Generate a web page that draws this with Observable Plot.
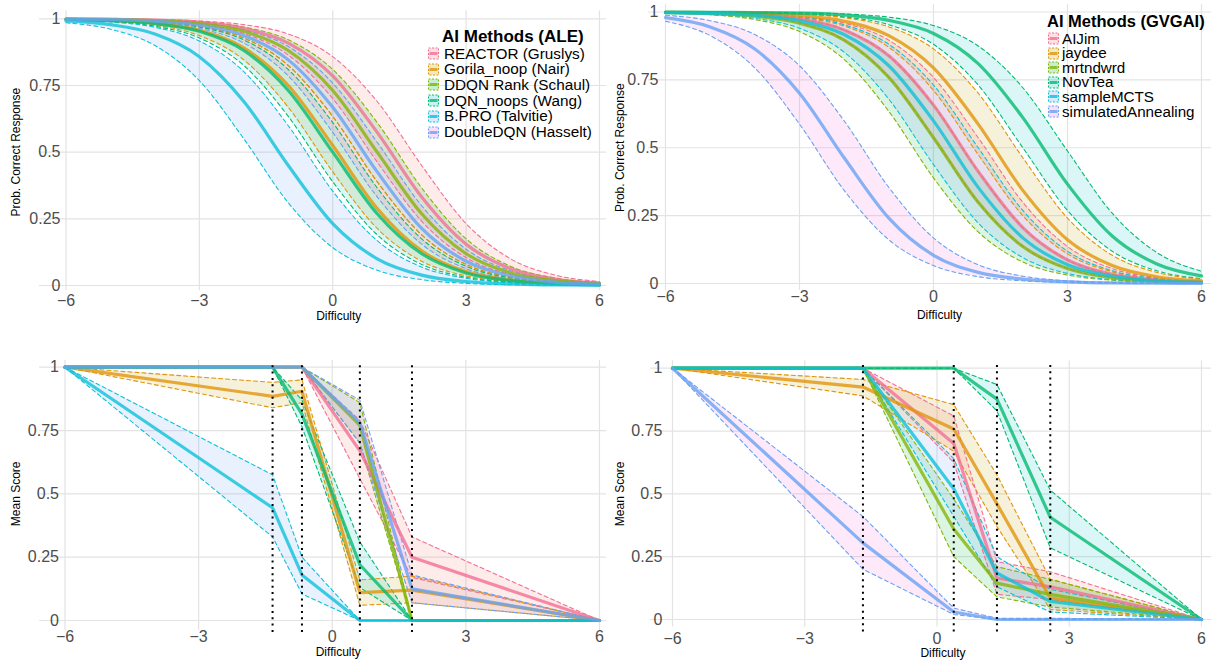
<!DOCTYPE html>
<html>
<head>
<meta charset="utf-8">
<script src="https://cdn.jsdelivr.net/npm/d3@7"></script>
<script src="https://cdn.jsdelivr.net/npm/@observablehq/plot@0.6"></script>
<style>
  html, body { margin: 0; padding: 0; background: #fff; }
  #page { position: relative; width: 1217px; height: 661px; overflow: hidden; font-family: "Liberation Sans", Arial, sans-serif; }
  .panel { position: absolute; }
  .leg-title { position: absolute; font-weight: bold; white-space: nowrap; color: #000; }
  .leg-item { position: absolute; white-space: nowrap; display: flex; align-items: center; color: #000; }
  .leg-item svg { display: block; }
</style>
</head>
<body>
<div id="page"></div>
<script>
// ---------- data ----------
const xTicks = [-6, -3, 0, 3, 6];
const yTicks = [0, 0.25, 0.5, 0.75, 1];
const irtX = [-6, -5, -4, -3, -2, -1, 0, 1, 2, 3, 4, 5, 6];

const aleMethods = ["REACTOR (Gruslys)", "Gorila_noop (Nair)", "DDQN Rank (Schaul)", "DQN_noops (Wang)", "B.PRO (Talvitie)", "DoubleDQN (Hasselt)"];
const gvgaiMethods = ["AIJim", "jaydee", "mrtndwrd", "NovTea", "sampleMCTS", "simulatedAnnealing"];

const aleIrtMean = [
  [0.999, 0.998, 0.995, 0.987, 0.964, 0.909, 0.786, 0.574, 0.332, 0.155, 0.063, 0.024, 0.009],
  [0.998, 0.994, 0.984, 0.957, 0.891, 0.750, 0.525, 0.289, 0.130, 0.052, 0.020, 0.007, 0.003],
  [0.999, 0.998, 0.993, 0.982, 0.953, 0.881, 0.731, 0.500, 0.269, 0.119, 0.047, 0.018, 0.007],
  [0.998, 0.993, 0.982, 0.953, 0.881, 0.731, 0.500, 0.269, 0.119, 0.047, 0.018, 0.007, 0.002],
  [0.992, 0.978, 0.943, 0.858, 0.690, 0.450, 0.232, 0.100, 0.039, 0.015, 0.006, 0.002, 0.001],
  [0.999, 0.997, 0.991, 0.976, 0.937, 0.846, 0.668, 0.426, 0.214, 0.091, 0.036, 0.013, 0.005]
];
const aleIrtLower = [
  [0.999, 0.997, 0.992, 0.979, 0.945, 0.864, 0.701, 0.463, 0.241, 0.104, 0.041, 0.016, 0.006],
  [0.997, 0.991, 0.976, 0.937, 0.846, 0.668, 0.426, 0.214, 0.091, 0.036, 0.013, 0.005, 0.002],
  [0.999, 0.996, 0.990, 0.972, 0.928, 0.825, 0.634, 0.389, 0.190, 0.079, 0.031, 0.012, 0.004],
  [0.996, 0.990, 0.972, 0.928, 0.825, 0.634, 0.389, 0.190, 0.079, 0.031, 0.012, 0.004, 0.002],
  [0.985, 0.961, 0.900, 0.768, 0.550, 0.310, 0.142, 0.057, 0.022, 0.008, 0.003, 0.001, 0.000],
  [0.998, 0.995, 0.987, 0.964, 0.909, 0.786, 0.574, 0.332, 0.155, 0.063, 0.024, 0.009, 0.003]
];
const aleIrtUpper = [
  [1.000, 0.999, 0.997, 0.992, 0.978, 0.943, 0.858, 0.690, 0.450, 0.232, 0.100, 0.039, 0.015],
  [0.999, 0.996, 0.990, 0.972, 0.928, 0.825, 0.634, 0.389, 0.190, 0.079, 0.031, 0.012, 0.004],
  [0.999, 0.998, 0.996, 0.989, 0.969, 0.921, 0.810, 0.611, 0.366, 0.175, 0.072, 0.028, 0.011],
  [0.998, 0.996, 0.989, 0.969, 0.921, 0.810, 0.611, 0.366, 0.175, 0.072, 0.028, 0.011, 0.004],
  [0.995, 0.988, 0.968, 0.917, 0.802, 0.599, 0.354, 0.168, 0.069, 0.027, 0.010, 0.004, 0.001],
  [0.999, 0.998, 0.994, 0.984, 0.959, 0.896, 0.759, 0.537, 0.299, 0.136, 0.055, 0.021, 0.008]
];

const gvgaiIrtMean = [
  [0.999, 0.996, 0.991, 0.975, 0.934, 0.839, 0.657, 0.413, 0.206, 0.087, 0.034, 0.013, 0.005],
  [0.999, 0.998, 0.995, 0.987, 0.966, 0.913, 0.794, 0.587, 0.343, 0.161, 0.066, 0.025, 0.010],
  [0.998, 0.994, 0.985, 0.959, 0.896, 0.759, 0.537, 0.299, 0.136, 0.055, 0.021, 0.008, 0.003],
  [1.000, 0.999, 0.998, 0.996, 0.989, 0.969, 0.921, 0.810, 0.611, 0.366, 0.175, 0.072, 0.028],
  [0.998, 0.995, 0.988, 0.968, 0.917, 0.802, 0.599, 0.354, 0.168, 0.069, 0.027, 0.010, 0.004],
  [0.979, 0.945, 0.864, 0.701, 0.463, 0.241, 0.104, 0.041, 0.016, 0.006, 0.002, 0.001, 0.000]
];
const gvgaiIrtLower = [
  [0.998, 0.994, 0.985, 0.959, 0.896, 0.759, 0.537, 0.299, 0.136, 0.055, 0.021, 0.008, 0.003],
  [0.999, 0.997, 0.993, 0.980, 0.948, 0.870, 0.711, 0.475, 0.250, 0.109, 0.043, 0.016, 0.006],
  [0.996, 0.990, 0.972, 0.928, 0.825, 0.634, 0.389, 0.190, 0.079, 0.031, 0.012, 0.004, 0.002],
  [1.000, 0.999, 0.998, 0.993, 0.982, 0.953, 0.881, 0.731, 0.500, 0.269, 0.119, 0.047, 0.018],
  [0.997, 0.991, 0.977, 0.940, 0.852, 0.679, 0.438, 0.223, 0.095, 0.037, 0.014, 0.005, 0.002],
  [0.966, 0.913, 0.794, 0.587, 0.343, 0.161, 0.066, 0.025, 0.010, 0.004, 0.001, 0.000, 0.000]
];
const gvgaiIrtUpper = [
  [0.999, 0.998, 0.994, 0.984, 0.959, 0.896, 0.759, 0.537, 0.299, 0.136, 0.055, 0.021, 0.008],
  [1.000, 0.999, 0.997, 0.992, 0.979, 0.945, 0.864, 0.701, 0.463, 0.241, 0.104, 0.041, 0.016],
  [0.999, 0.996, 0.991, 0.975, 0.934, 0.839, 0.657, 0.413, 0.206, 0.087, 0.034, 0.013, 0.005],
  [1.000, 1.000, 0.999, 0.997, 0.993, 0.981, 0.950, 0.875, 0.721, 0.488, 0.259, 0.114, 0.045],
  [0.999, 0.998, 0.993, 0.982, 0.953, 0.881, 0.731, 0.500, 0.269, 0.119, 0.047, 0.018, 0.007],
  [0.988, 0.968, 0.917, 0.802, 0.599, 0.354, 0.168, 0.069, 0.027, 0.010, 0.004, 0.001, 0.001]
];

// mean score by difficulty bins
const aleScoreX = [-6, -1.34, -0.68, 0.62, 1.79, 6];
const aleCuts = [-1.34, -0.68, 0.62, 1.79];
const aleScoreMean = [
  [1, 1, 1, 0.67, 0.25, 0],
  [1, 0.885, 0.905, 0.11, 0.12, 0],
  [1, 1, 1, 0.77, 0, 0],
  [1, 1, 0.815, 0.22, 0, 0],
  [1, 0.445, 0.18, 0, 0, 0],
  [1, 1, 1, 0.78, 0.125, 0]
];
const aleScoreLower = [
  [1, 1, 1, 0.56, 0.17, 0],
  [1, 0.84, 0.86, 0.06, 0.07, 0],
  [1, 1, 1, 0.70, 0, 0],
  [1, 1, 0.765, 0.13, 0, 0],
  [1, 0.33, 0.105, 0, 0, 0],
  [1, 1, 1, 0.70, 0.07, 0]
];
const aleScoreUpper = [
  [1, 1, 1, 0.79, 0.33, 0],
  [1, 0.94, 0.95, 0.16, 0.175, 0],
  [1, 1, 1, 0.86, 0, 0],
  [1, 1, 0.87, 0.31, 0, 0],
  [1, 0.575, 0.25, 0, 0, 0],
  [1, 1, 1, 0.87, 0.18, 0]
];

const gvgaiScoreX = [-6, -1.68, 0.38, 1.36, 2.57, 6];
const gvgaiCuts = [-1.68, 0.38, 1.36, 2.57];
const gvgaiScoreMean = [
  [1, 1, 0.70, 0.165, 0.13, 0],
  [1, 0.925, 0.758, 0.46, 0.085, 0],
  [1, 1, 0.36, 0.145, 0.10, 0],
  [1, 1, 1, 0.877, 0.407, 0],
  [1, 1, 0.52, 0.185, 0.072, 0],
  [1, 0.305, 0.03, 0, 0, 0]
];
const gvgaiScoreLower = [
  [1, 1, 0.625, 0.10, 0.08, 0],
  [1, 0.89, 0.67, 0.37, 0.04, 0],
  [1, 1, 0.25, 0.09, 0.05, 0],
  [1, 1, 1, 0.83, 0.285, 0],
  [1, 1, 0.41, 0.13, 0.03, 0],
  [1, 0.20, 0.02, 0, 0, 0]
];
const gvgaiScoreUpper = [
  [1, 1, 0.81, 0.23, 0.19, 0],
  [1, 0.955, 0.855, 0.575, 0.16, 0],
  [1, 1, 0.48, 0.21, 0.16, 0],
  [1, 1, 1, 0.935, 0.515, 0],
  [1, 1, 0.64, 0.25, 0.12, 0],
  [1, 0.41, 0.045, 0.005, 0.005, 0]
];

// ---------- styles ----------
const lineColors = ["#F26F96", "#E2950B", "#86B40A", "#04BB6F", "#0CC2D8", "#68A2F2"];
const fillColors = ["#F8766D", "#B79F00", "#00BA38", "#00BFC4", "#619CFF", "#F564E3"];
const FONT = "'Liberation Sans', Arial, sans-serif";
const fmtX = d => (d < 0 ? "\u2212" + Math.abs(d) : String(d));
const fmtY = d => String(d);

function panel(o) {
  const rows = o.methods.map((m, i) => o.xs.map((x, j) => ({x, y: o.mean[i][j], lo: o.lower[i][j], hi: o.upper[i][j]})));
  const curve = o.curve;
  const marks = [
    Plot.ruleY(yTicks, {x1: o.gx[0], x2: o.gx[1], stroke: "#e3e3e3", strokeWidth: 1.2}),
    Plot.ruleX(xTicks, {y1: o.gy[0], y2: o.gy[1], stroke: "#e3e3e3", strokeWidth: 1.2}),
    ...rows.map((r, i) => Plot.areaY(r, {x: "x", y1: "lo", y2: "hi", fill: fillColors[i], fillOpacity: 0.14, curve})),
    ...rows.map((r, i) => Plot.line(r, {x: "x", y: "lo", stroke: lineColors[i], strokeWidth: 1.1, strokeDasharray: "4,3", curve})),
    ...rows.map((r, i) => Plot.line(r, {x: "x", y: "hi", stroke: lineColors[i], strokeWidth: 1.1, strokeDasharray: "4,3", curve})),
    ...rows.map((r, i) => Plot.line(r, {x: "x", y: "y", stroke: lineColors[i], strokeWidth: 3.2, strokeOpacity: 0.8, curve})),
    o.cuts ? Plot.ruleX(o.cuts, {y1: o.cy[0], y2: o.cy[1], stroke: "#000", strokeWidth: 2, strokeDasharray: "2,4.3"}) : null,
    Plot.axisX({ticks: xTicks, tickFormat: fmtX, tickSize: 0, tickPadding: o.padX, fontSize: 16, color: "#4d4d4d", label: null}),
    Plot.axisY({ticks: yTicks, tickFormat: fmtY, tickSize: 0, tickPadding: o.padY, fontSize: 16, color: "#4d4d4d", label: null}),
    Plot.text(["Difficulty"], {frameAnchor: "bottom", lineAnchor: "middle", textAnchor: "middle", dy: o.xTitleDy, dx: 6, fontSize: 12, fill: "#000"}),
    Plot.text([o.yTitle], {frameAnchor: "left", lineAnchor: "middle", textAnchor: "middle", rotate: -90, dx: o.yTitleDx, fontSize: 12, fill: "#000"})
  ];
  return Plot.plot({
    width: o.width, height: o.height,
    marginTop: o.mt, marginRight: o.mr, marginBottom: o.mb, marginLeft: o.ml,
    x: {domain: [-6, 6]},
    y: {domain: [0, 1]},
    style: {fontFamily: FONT, background: "transparent", overflow: "visible"},
    marks
  });
}

function place(el, left, top) {
  const d = document.createElement("div");
  d.className = "panel";
  d.style.left = left + "px";
  d.style.top = top + "px";
  d.appendChild(el);
  document.getElementById("page").appendChild(d);
}

place(panel({
  methods: aleMethods, xs: irtX, mean: aleIrtMean, lower: aleIrtLower, upper: aleIrtUpper,
  width: 608, height: 330, mt: 18.3, mr: 9, mb: 45, ml: 65.5,
  gx: [-6.6, 6.16], gy: [-0.02, 1.03], padX: 9, padY: 5.5, xTitleDy: 31, yTitleDx: -49.5,
  yTitle: "Prob. Correct Response", curve: "monotone-x"
}), 0, 0);

place(panel({
  methods: gvgaiMethods, xs: irtX, mean: gvgaiIrtMean, lower: gvgaiIrtLower, upper: gvgaiIrtUpper,
  width: 609, height: 330, mt: 11.5, mr: 16, mb: 47, ml: 57,
  gx: [-6.38, 6.22], gy: [-0.026, 1.028], padX: 7.3, padY: 7, xTitleDy: 32, yTitleDx: -45,
  yTitle: "Prob. Correct Response", curve: "monotone-x"
}), 608, 0);

place(panel({
  methods: aleMethods, xs: aleScoreX, mean: aleScoreMean, lower: aleScoreLower, upper: aleScoreUpper,
  width: 608, height: 331, mt: 36.7, mr: 9, mb: 41, ml: 64.5,
  gx: [-6.57, 6.16], gy: [-0.04, 1.026], padX: 10.3, padY: 6, xTitleDy: 31.7, yTitleDx: -49,
  yTitle: "Mean Score", curve: "linear", cuts: aleCuts, cy: [-0.047, 1.02]
}), 0, 330);

place(panel({
  methods: gvgaiMethods, xs: gvgaiScoreX, mean: gvgaiScoreMean, lower: gvgaiScoreLower, upper: gvgaiScoreUpper,
  width: 609, height: 331, mt: 37.7, mr: 16, mb: 42, ml: 64,
  gx: [-6.5, 6.23], gy: [-0.03, 1.03], padX: 12.8, padY: 10, xTitleDy: 34, yTitleDx: -52,
  yTitle: "Mean Score", curve: "linear", cuts: gvgaiCuts, cy: [-0.05, 1.02]
}), 608, 330);

// ---------- legends ----------
function keySvg(i) {
  const ns = "http://www.w3.org/2000/svg";
  const s = document.createElementNS(ns, "svg");
  s.setAttribute("width", 13); s.setAttribute("height", 13);
  const r = document.createElementNS(ns, "rect");
  r.setAttribute("x", 1.5); r.setAttribute("y", 1); r.setAttribute("width", 10); r.setAttribute("height", 11);
  r.setAttribute("fill", fillColors[i]); r.setAttribute("fill-opacity", 0.22);
  r.setAttribute("stroke", lineColors[i]); r.setAttribute("stroke-width", 1.1); r.setAttribute("stroke-dasharray", "2,1.5");
  s.appendChild(r);
  const l = document.createElementNS(ns, "line");
  l.setAttribute("x1", 2.5); l.setAttribute("x2", 10.5); l.setAttribute("y1", 6.5); l.setAttribute("y2", 6.5);
  l.setAttribute("stroke", lineColors[i]); l.setAttribute("stroke-width", 3); l.setAttribute("stroke-opacity", 0.8);
  s.appendChild(l);
  return s;
}

function legend(title, names, o) {
  const page = document.getElementById("page");
  const t = document.createElement("div");
  t.className = "leg-title";
  t.textContent = title;
  t.style.left = o.titleX + "px";
  t.style.top = (o.titleY - 9) + "px";
  t.style.fontSize = o.titleSize + "px";
  t.style.lineHeight = "18px";
  t.style.height = "18px";
  page.appendChild(t);
  names.forEach((n, i) => {
    const kd = document.createElement("div");
    kd.className = "leg-item";
    kd.style.left = o.keyX + "px";
    kd.style.top = (o.itemY + i * o.step - 6.5) + "px";
    kd.appendChild(keySvg(i));
    page.appendChild(kd);
    const d = document.createElement("div");
    d.className = "leg-item";
    d.textContent = n;
    d.style.left = o.textX + "px";
    d.style.top = (o.itemY + i * o.step - 7) + "px";
    d.style.fontSize = o.itemSize + "px";
    d.style.lineHeight = "14px";
    d.style.height = "14px";
    page.appendChild(d);
  });
}

legend("AI Methods (ALE)", aleMethods, {titleX: 442, titleY: 36.5, titleSize: 17, keyX: 427, textX: 444, itemY: 53.5, step: 15.7, itemSize: 15.3});
legend("AI Methods (GVGAI)", gvgaiMethods, {titleX: 1047, titleY: 20.5, titleSize: 16.5, keyX: 1047, textX: 1062, itemY: 38.5, step: 14.6, itemSize: 15.2});
</script>
</body>
</html>
